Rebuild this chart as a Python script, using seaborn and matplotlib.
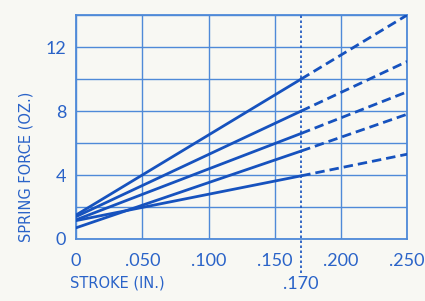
import matplotlib
matplotlib.use("Agg")
import matplotlib.pyplot as plt
import seaborn as sns
import pandas as pd

# Data
stroke_pts = [0.0, 0.170, 0.250]
force_a = [1.5, 10.0, 14.0]
force_b = [1.4, 8.0, 11.1]
force_c = [1.2, 6.6, 9.2]
force_d = [0.7, 5.5, 7.8]
force_e = [1.15, 3.95, 5.3]
x_ticks = [0.0, 0.05, 0.10, 0.15, 0.20, 0.25]
x_tick_labels = ["0", ".050", ".100", ".150", ".200", ".250"]
y_ticks = [0, 4, 8, 12]
y_tick_labels = ["0", "4", "8", "12"]
marker_stroke = 0.170
marker_label = ".170"

BG = "#f8f8f3"
LINE = "#1652be"
GRID = "#4f8ad8"
TXT = "#2a63c8"

sns.set_theme(style="white")
plt.rcParams["font.family"] = ["Lato", "DejaVu Sans"]

fig = plt.figure(figsize=(4.25, 3.01), dpi=100, facecolor=BG)
ax = fig.add_axes([0.179, 0.206, 0.779, 0.744])
ax.set_facecolor(BG)

for f in [force_a, force_b, force_c, force_d, force_e]:
    solid = pd.DataFrame({"x": stroke_pts[:2], "y": f[:2]})
    dashed = pd.DataFrame({"x": stroke_pts[1:], "y": f[1:]})
    sns.lineplot(data=solid, x="x", y="y", ax=ax, color=LINE, lw=2.0, zorder=3)
    sns.lineplot(data=dashed, x="x", y="y", ax=ax, color=LINE, lw=2.0, zorder=3,
                 linestyle=(0, (3.4, 1.8)))

ax.set_xlim(0, 0.25)
ax.set_ylim(0, 14)
ax.set_xticks(x_ticks)
ax.set_yticks(range(0, 15, 2))
ax.grid(True, color=GRID, lw=1.0, zorder=1)
ax.set_axisbelow(True)

ax.set_xticklabels(x_tick_labels)
ylabels = [str(v) if v in y_ticks else "" for v in range(0, 15, 2)]
ax.set_yticklabels(ylabels)
ax.tick_params(axis="both", length=0, colors=TXT, labelsize=13)
ax.tick_params(axis="x", pad=10)
ax.tick_params(axis="y", pad=7)

for s in ax.spines.values():
    s.set_color(GRID)
    s.set_linewidth(1.3)

ax.plot([marker_stroke, marker_stroke], [-2.1, 14], color=LINE, lw=1.2,
        linestyle=(0, (1.5, 1.5)), clip_on=False, zorder=4)
ax.text(marker_stroke, -2.3, marker_label, color=TXT, fontsize=13,
        ha="center", va="top")

ax.set_xlabel("")
ax.set_ylabel("")
fig.text(70 / 425, 1 - 283 / 301, "STROKE (IN.)", color=TXT, fontsize=10.5,
         ha="left", va="center", family=["Liberation Sans Narrow", "DejaVu Sans"])
fig.text(26 / 425, 1 - 167 / 301, "SPRING FORCE (OZ.)", color=TXT, fontsize=10.5,
         ha="center", va="center", rotation=90,
         family=["Liberation Sans Narrow", "DejaVu Sans"])

fig.savefig("out.png", dpi=100, facecolor=BG)
